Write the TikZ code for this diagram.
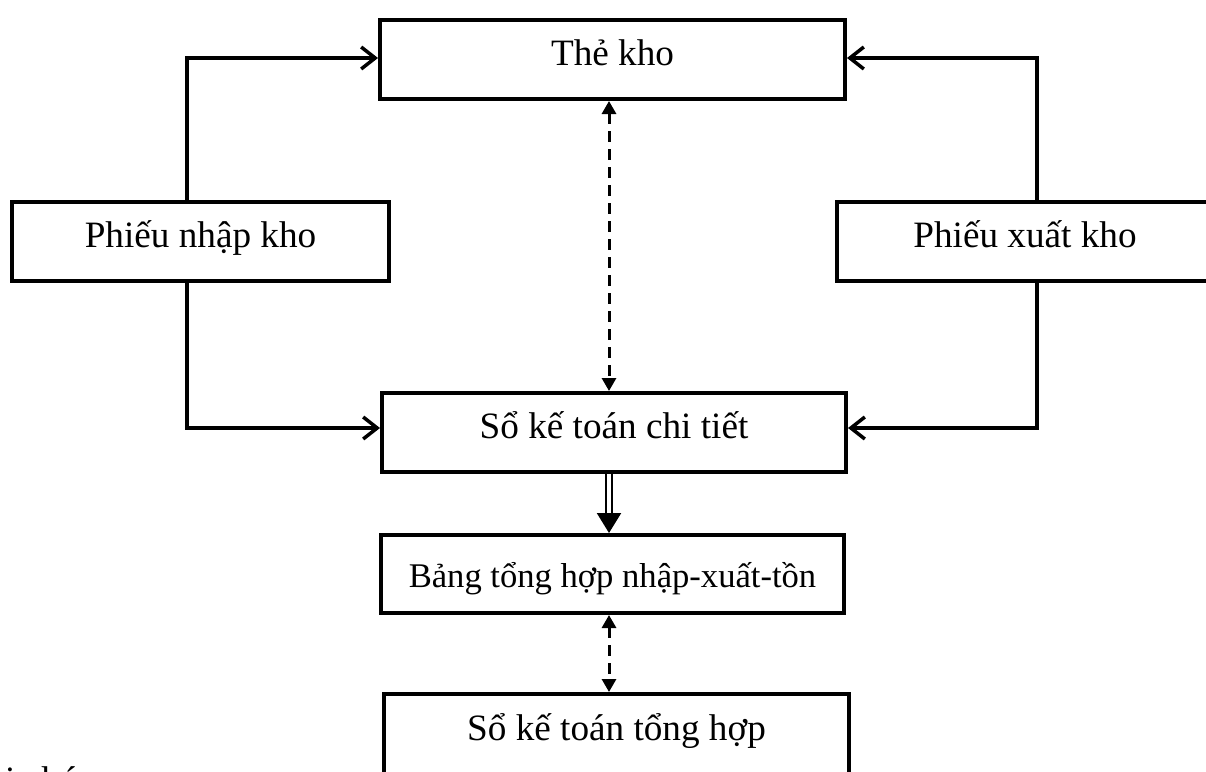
\documentclass[tikz,border=0pt]{standalone}
\usepackage{fontspec}
\setmainfont{Liberation Serif}
\usetikzlibrary{arrows.meta}
\begin{document}
\begin{tikzpicture}[x=1pt,y=-1pt,
  box/.style={draw, line width=4pt, inner sep=0pt, text height=22pt, text depth=10pt, font=\fontsize{37.2pt}{44pt}\selectfont},
  flow/.style={line width=3.5pt, line join=miter, -{Straight Barb[length=14pt,width=22pt,line width=3.5pt]}},
  dashflow/.style={line width=3pt, dash pattern=on 11pt off 7pt, {Triangle[length=13pt,width=14pt]}-{Triangle[length=13pt,width=14pt]}},
  dblflow/.style={line width=2.2pt, double distance=3.4pt, -{Triangle[length=20pt,width=24pt]}}
]
\useasboundingbox (0,0) rectangle (1206,771);
\clip (0,0) rectangle (1206,771);
\node[box, minimum width=465pt, minimum height=79pt] (the) at (612.5,59.5) {Thẻ kho};
\node[box, minimum width=377pt, minimum height=79pt] (pn) at (200.5,241.5) {Phiếu nhập kho};
\node[box, minimum width=376pt, minimum height=79pt] (px) at (1025,241.5) {Phiếu xuất kho};
\node[box, minimum width=464pt, minimum height=79pt] (sct) at (614,432.5) {Sổ kế toán chi tiết};
\node[box, minimum width=463pt, minimum height=78pt, text height=26pt, text depth=0pt, font=\fontsize{34.6pt}{40pt}\selectfont] (bang) at (612.5,574) {Bảng tổng hợp nhập-xuất-tồn};
\node[box, minimum width=465pt, minimum height=80pt] (sth) at (616.5,734) {Sổ kế toán tổng hợp};
\node[anchor=base west, inner sep=0pt, font=\fontsize{37.2pt}{44pt}\selectfont] (gc) at (-40.5,792) {Ghi chú:};
\coordinate (cx) at (609,0);
\draw[flow] ([xshift=-13.5pt]pn.north) |- ([yshift=1.5pt]the.west);
\draw[flow] ([xshift=-13.5pt]pn.south) |- ([yshift=4.5pt]sct.west);
\draw[flow] ([xshift=12pt]px.north) |- ([yshift=1.5pt]the.east);
\draw[flow] ([xshift=12pt]px.south) |- ([yshift=4.5pt]sct.east);
\draw[dashflow] (the.south -| cx) -- (sct.north -| cx);
\draw[dblflow] (sct.south -| cx) -- (bang.north -| cx);
\draw[dashflow] (bang.south -| cx) -- (sth.north -| cx);
\end{tikzpicture}
\end{document}
